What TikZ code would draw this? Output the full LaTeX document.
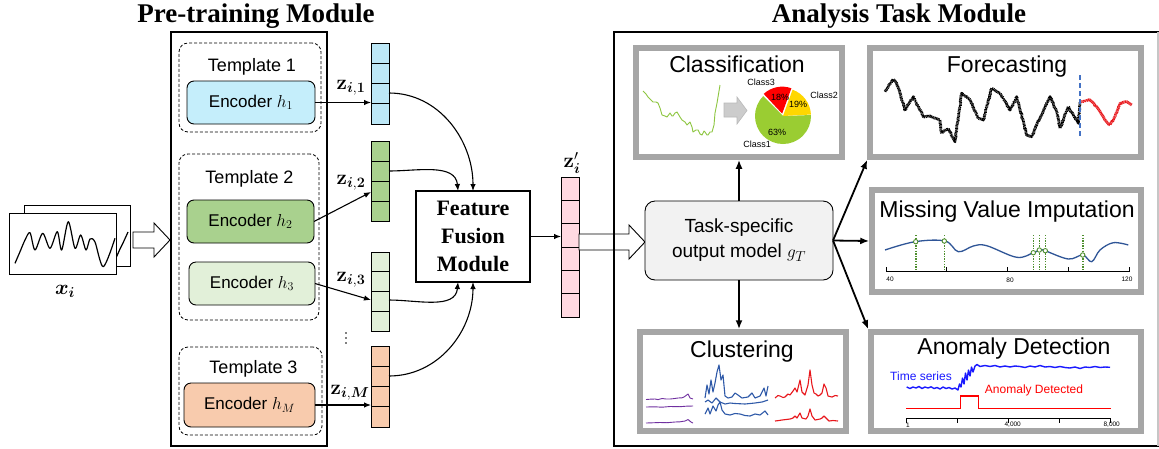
\documentclass[tikz,border=0pt]{standalone}
\usepackage[no-math]{fontspec}
\setmainfont{Liberation Sans}
\newfontfamily\titlefont{Liberation Serif}
\usepackage{amsmath}
\usepackage{bm}
\usetikzlibrary{arrows.meta,calc,decorations.pathmorphing}
\definecolor{encBlue}{HTML}{C5EEFB}
\definecolor{vecBlue}{HTML}{BDE8F7}
\definecolor{encGreen}{HTML}{A9D18E}
\definecolor{encLight}{HTML}{E2F0D9}
\definecolor{encOrange}{HTML}{F8CBAD}
\definecolor{vecPink}{HTML}{FFD9E1}
\definecolor{taskGray}{HTML}{F2F2F2}
\definecolor{panelGray}{HTML}{A6A6A6}
\definecolor{pieGreen}{HTML}{9ACD32}
\definecolor{pieYellow}{HTML}{FFD700}
\definecolor{pieRed}{HTML}{FF0000}
\definecolor{mvBlue}{HTML}{2F5597}
\definecolor{mvGreen}{HTML}{4E8F2E}
\definecolor{cluPurple}{HTML}{7030A0}
\definecolor{cluBlue}{HTML}{2E59A8}
\definecolor{cluRed}{HTML}{E8161B}
\definecolor{adBlue}{HTML}{1A1AFF}
\definecolor{fcBlue}{HTML}{4472C4}
\definecolor{fcRed}{HTML}{E8161B}
\definecolor{clsLine}{HTML}{8DC63F}
\newcommand\vcells[2]{\pgfmathtruncatemacro\vcn{#2-1}\foreach \k in {1,...,\vcn}{\draw[line width=0.9pt] ($(#1.north west)!\k/#2!(#1.south west)$) -- ($(#1.north east)!\k/#2!(#1.south east)$);}}
\newcommand\hollowarrow[5]{\draw[line width=0.9pt, fill=white, line join=miter] (#1,#3-#4) -- (#2-16,#3-#4) -- (#2-16,#3-#5) -- (#2,#3) -- (#2-16,#3+#5) -- (#2-16,#3+#4) -- (#1,#3+#4) -- cycle;}
\begin{document}
\begin{tikzpicture}[x=1pt,y=-1pt,
  every node/.style={inner sep=0pt, outer sep=0pt},
  tmpl/.style={draw, dash pattern=on 3pt off 2pt, rounded corners=9pt, line width=0.8pt},
  enc/.style={draw, rounded corners=7pt, line width=0.9pt, font=\fontsize{17}{20}\selectfont},
  vec/.style={draw, line width=0.9pt, minimum width=18pt},
  arr/.style={-{Latex[length=7pt,width=5.5pt]}, line width=1.1pt},
  arrT/.style={-{Latex[length=9pt,width=7pt]}, line width=1.8pt},
  panel/.style={draw=panelGray, line width=5.5pt, fill=white, outer sep=2.75pt},
  ptitle/.style={anchor=base, font=\fontsize{23}{26}\selectfont},
  tlabel/.style={anchor=base, font=\fontsize{18}{21}\selectfont},
  zlab/.style={font=\fontsize{20}{24}\selectfont},
  small/.style={font=\fontsize{9}{10}\selectfont},
  tiny/.style={font=\fontsize{6.5}{7}\selectfont},
  modtitle/.style={anchor=base, font=\titlefont\bfseries\fontsize{27}{30}\selectfont},
  noisy/.style={decorate, decoration={random steps, segment length=1.8pt, amplitude=0.5pt}},
  fcline/.style={line width=2.8pt, dash pattern=on 0.9pt off 0.5pt, line join=round},
]
\pgfmathsetseed{7}
\useasboundingbox (0,0) rectangle (1159,448);

% ---------------- input series ----------------
\node[draw, line width=0.9pt, fill=white, minimum width=106pt, minimum height=61pt] (xb) at (77,235.5) {};
\draw[line width=1.2pt, line join=round] (116,258) -- (120,249) -- (123,243) -- (128,232);
\node[draw, line width=0.9pt, fill=white, minimum width=107pt, minimum height=61pt] (xf) at (62.5,243.5) {};
\draw[line width=1.2pt, line join=round] plot[smooth, tension=0.5] coordinates {(15,263.3) (20,251.7) (25,240) (30,232.7) (35,250) (42.7,233.3) (50,248.3) (57.3,231.7) (61.7,250) (68.3,221.7) (75,248.3) (80.7,235) (86,250) (90,239) (95,242) (103.3,266.7) (115,238.3)};
\node[font=\fontsize{21}{24}\selectfont] (xlab) at (65,291) {$\bm{x_i}$};
\hollowarrow{133}{170}{240}{8}{17}

% ---------------- pre-training module ----------------
\node[modtitle] (preT) at (256,22) {Pre-training Module};
\node[draw, line width=1.4pt, minimum width=156pt, minimum height=414pt] (pre) at (249,239) {};

\node[tmpl, minimum width=142pt, minimum height=89pt] (t1) at (250,87.5) {};
\node[tlabel] (t1l) at (252,71) {Template 1};
\node[enc, fill=encBlue, minimum width=128pt, minimum height=43pt] (h1) at (251,102.5) {Encoder $h_1$};

\node[tmpl, minimum width=140pt, minimum height=166pt] (t2) at (249,237) {};
\node[tlabel] (t2l) at (249.5,183) {Template 2};
\node[enc, fill=encGreen, minimum width=127pt, minimum height=43pt] (h2) at (250.5,221.5) {Encoder $h_2$};
\node[enc, fill=encLight, minimum width=126pt, minimum height=43pt] (h3) at (252,283.5) {Encoder $h_3$};

\node[tmpl, minimum width=143pt, minimum height=88pt] (t3) at (250.5,391) {};
\node[tlabel] (t3l) at (253.5,373) {Template 3};
\node[enc, fill=encOrange, minimum width=131pt, minimum height=44pt] (hM) at (249.5,405) {Encoder $h_M$};

% ---------------- embedding vectors ----------------
\node[vec, fill=vecBlue, minimum height=81pt] (z1) at (380,83.5) {}; \vcells{z1}{4}
\node[vec, fill=encGreen, minimum height=80pt] (z2) at (380,181) {}; \vcells{z2}{4}
\node[vec, fill=encLight, minimum height=79pt] (z3) at (380,291.5) {}; \vcells{z3}{4}
\node[vec, fill=encOrange, minimum height=81pt] (zM) at (380,386.5) {}; \vcells{zM}{4}
\foreach \yy in {333,338,343} \fill (346,\yy) circle[radius=0.8];

\node[zlab] (z1l) at (351,88) {$\mathbf{z}_{\bm{i},\mathbf{1}}$};
\node[zlab] (z2l) at (351,183) {$\mathbf{z}_{\bm{i},\mathbf{2}}$};
\node[zlab] (z3l) at (351,280) {$\mathbf{z}_{\bm{i},\mathbf{3}}$};
\node[zlab] (zMl) at (350,393) {$\mathbf{z}_{\bm{i},\bm{M}}$};

\draw[arr] (h1.east) -- (h1.east -| z1.west);
\draw[arr] (h2.east) -- ([yshift=-11pt]z2.west);
\draw[arr] (h3.east) -- ([yshift=-8.5pt]z3.west);
\draw[arr] (hM.east) -- (hM.east -| zM.west);

% ---------------- feature fusion ----------------
\node[draw, line width=1.2pt, minimum width=114pt, minimum height=91pt, align=center,
      font=\titlefont\bfseries\fontsize{22}{28}\selectfont] (ffm) at (473,236.5) {Feature\\Fusion\\Module};

\draw[arr] ([yshift=-9.5pt]z1.east) to[out=0,in=90] (ffm.north);
\draw[arr] ([yshift=10pt]z2.east) to[out=0,in=95] ([xshift=-15pt]ffm.north);
\draw[arr] ([yshift=-8.5pt]z3.east) to[out=0,in=-95] ([xshift=-15pt]ffm.south);
\draw[arr] ([yshift=10.5pt]zM.east) to[out=0,in=-90] (ffm.south);

\node[vec, fill=vecPink, minimum height=140pt] (zp) at (570,247) {}; \vcells{zp}{6}
\node[zlab] (zpl) at (572,163) {$\mathbf{z}'_{\bm{i}}$};
\draw[arr] (ffm.east) -- (ffm.east -| zp.west);

\hollowarrow{579}{645}{242}{8}{17}

% ---------------- analysis task module ----------------
\node[draw, line width=1.5pt, minimum width=544pt, minimum height=414pt] (ana) at (886,239) {};
\draw[gray!45, line width=1.6pt] (ana.north east) -- (ana.south east);
\node[modtitle] (anaT) at (899,22) {Analysis Task Module};

\node[draw, fill=taskGray, rounded corners=10pt, line width=0.9pt, minimum width=188pt, minimum height=79pt,
      align=center, font=\fontsize{19}{25}\selectfont] (task) at (739,240.5) {Task-specific\\output model $g_T$};

% panels
\node[panel, minimum width=206pt, minimum height=109pt] (cls) at (739,102.5) {};
\node[panel, minimum width=271pt, minimum height=109pt] (fc) at (1005.5,102.5) {};
\node[panel, minimum width=269pt, minimum height=102pt] (mvi) at (1006.5,241) {};
\node[panel, minimum width=206pt, minimum height=99pt] (clu) at (743,381.5) {};
\node[panel, minimum width=270pt, minimum height=99pt] (ad) at (1006,381.5) {};

\draw[arrT] (task.north) -- (task.north |- cls.south);
\draw[arrT] (task.south) -- (task.south |- clu.north);
\draw[arrT] (task.east) -- (fc.south west);
\draw[arrT] (task.east) -- (mvi.west);
\draw[arrT] (task.east) -- (ad.north west);

% --- Classification ---
\node[ptitle] (clsT) at (737,72) {Classification};
\draw[clsLine, line width=0.9pt, line join=round] plot coordinates {(643,91) (646,94) (648,97) (651,100) (653,102) (656,102) (658,103) (660,108) (662,115) (665,116) (667,117) (670,113) (672,116) (673,116) (675,113) (677,112) (680,117) (682,120) (685,122) (687,125) (690,122) (692,127) (693,132) (696,130) (698,130) (700,134) (702,135) (704,131) (705,132) (707,135) (708,135) (710,132) (712,132) (714,125) (715,113) (717,103) (720,85)};
\draw[fill=gray!40, draw=gray!55, line width=0.6pt] (724,103) -- (737,103) -- (737,97) -- (747,110.5) -- (737,124) -- (737,117) -- (724,117) -- cycle;
\begin{scope}[shift={(783,116)}, yscale=-1]
  \fill[pieGreen] (0,0) -- (135:28) arc[start angle=135, end angle=362, radius=28] -- cycle;
  \fill[pieYellow] (0,0) -- (3:28) arc[start angle=3, end angle=70, radius=28] -- cycle;
  \fill[pieRed] (110:2.5) -- ++(70:27) arc[start angle=70, end angle=133, radius=27] -- cycle;
\end{scope}
\node[small] (c3) at (761,82) {Class3};
\node[small] (c2) at (824,95) {Class2};
\node[small] (p18) at (780,97) {18\%};
\node[small] (p19) at (798,104) {19\%};
\node[small] (p63) at (777,132) {63\%};
\node[small] (c1) at (757,144) {Class1};

% --- Forecasting ---
\node[ptitle] (fcT) at (1007,72) {Forecasting};
\draw[fcline, noisy] plot coordinates {(885,91.7) (893.3,79.3) (896.7,83.3) (905,110) (913.3,96.7) (923.3,116.7) (930,116) (940,120) (941.7,133.3) (948.3,128.3) (955,141.7) (961.7,93.3) (970,100) (978.3,118.3) (983.3,120) (991.7,88.3) (1000,93.3) (1010,110) (1016.7,96.7) (1026.7,135) (1031.7,136.7) (1036.7,125) (1050,96.7) (1056.7,111.7) (1060,128.3) (1068.3,106.7) (1078.3,123.3) (1080,101.7)};
\draw[fcline, fcRed, noisy] plot coordinates {(1080,101.7) (1090,100) (1096.7,106.7) (1105,120) (1110,125) (1115,116.7) (1120,103.3) (1126.7,101.7) (1131.7,105)};
\draw[fcBlue, line width=1.4pt, dash pattern=on 5pt off 3pt] (1080,75) -- (1080,137);

% --- Missing value imputation ---
\node[ptitle] (mviT) at (1007,217) {Missing Value Imputation};
\foreach \xx in {915.7,944.3,1033.3,1039.3,1045.3,1082.7}
  \draw[mvGreen, line width=1.6pt, dash pattern=on 1.4pt off 1.2pt] (\xx,235) -- (\xx,271.7);
\draw[mvBlue, line width=1.3pt] plot[smooth, tension=0.6] coordinates {(885,250) (915,241.7) (945,241) (958.3,251.7) (973.3,246) (986.7,245.7) (1016.7,257.3) (1033.3,252.7) (1040,250) (1045,250.7) (1068.3,259) (1082.7,255) (1091.7,261.7) (1100,250) (1113.3,242.7) (1128.3,245)};
\foreach \xx/\yy in {915.7/241.7,944.3/241,1033.3/252.7,1039.3/250,1045.3/250.7,1082.7/255}
  \draw[mvGreen, line width=0.9pt, fill=white] (\xx,\yy) circle[radius=2.2];
\draw[line width=0.8pt] (886,271.7) -- (1129.3,271.7);
\foreach \xx in {886,946.7,1007.3,1068.3,1129.3} \draw[line width=0.8pt] (\xx,271.7) -- (\xx,266.5);
\node[tiny] (m40) at (890,279) {40};
\node[tiny] (m80) at (1010,280) {80};
\node[tiny] (m120) at (1127,279) {120};

% --- Clustering ---
\node[ptitle] (cluT) at (742,357) {Clustering};
\draw[cluPurple, line width=0.9pt, line join=round] plot coordinates {(646,399.5) (650,399.2) (655,399) (658,399.6) (662,398.5) (666,399) (670,399) (674,398.6) (678,398) (682,397.8) (684,397) (686,395.5) (688,394) (690,398) (693,399)};
\draw[cluPurple, line width=0.9pt] plot coordinates {(646,407) (655,406.8) (662,407.2) (670,406.5) (680,406.7) (686,406.2) (693,406)};
\draw[cluPurple, line width=0.9pt, line join=round] plot coordinates {(646,423) (652,422.8) (660,422.5) (667,422.7) (675,422) (680,421.8) (685,421) (688,419.5) (691,422) (693,423)};
\draw[cluBlue, line width=1.1pt, line join=round] plot coordinates {(705,398) (707,385) (709,394) (711,380) (713,392) (715,383) (717,372) (719,365) (721,380) (723,375) (725,396) (728,398) (732,397) (735,393) (738,395) (742,398) (748,397) (752,393) (755,398) (760,396) (764,388) (766,396) (768,386)};
\draw[cluBlue, line width=1.1pt, line join=round] plot coordinates {(705,402) (708,400) (712,403) (716,398) (720,402) (725,404) (730,403) (735,403.5) (745,404) (755,403) (762,402) (768,400)};
\draw[cluBlue, line width=1.1pt, line join=round] plot coordinates {(705,414) (708,408) (710,414) (713,406) (716,411) (718,405) (720,402) (722,410) (725,414) (730,415) (735,413.5) (740,414) (745,415.5) (750,416) (755,414) (760,415) (765,411) (768,415)};
\draw[cluRed, line width=1.1pt, line join=round] plot coordinates {(775,398) (778,395.5) (780,396) (783,397.5) (785,397) (788,394) (790,395) (793,391) (795,388) (797,392) (800,380) (802,392) (805,395) (808,385) (810,370) (812,385) (814,393) (816,394) (818,396) (820,395) (822,393) (824,384) (826,388) (828,396) (832,397) (835,395.5) (838,396)};
\draw[cluRed, line width=1.1pt, line join=round] plot coordinates {(775,421) (779,420.5) (782,420) (786,419.5) (790,419) (793,418) (795,416) (797,418) (800,413) (802,418) (806,419) (808,416) (810,409) (812,416) (815,420) (820,419) (822,418) (824,416) (826,418) (829,421) (833,420.5) (838,421)};

% --- Anomaly detection ---
\node[ptitle] (adT) at (1014,354) {Anomaly Detection};
\draw[adBlue, line width=1.4pt, line join=round] plot coordinates {(906.7,387) (910,388.5) (913,387) (916,388) (919,386.5) (922,388.5) (925,387) (928,388) (931,386.8) (934,388.5) (937,387.5) (940,389) (943,387) (946,388.5) (949,387.5) (952,389) (955,388) (958,390) (959.5,384) (961,387) (962.5,378) (964,384) (965.5,373) (967,380) (968.5,370) (970,376) (971.5,367) (973,372) (975,366) (977,364.5) (980,366.5) (985,365.5) (990,366.5) (995,365.5) (1000,367) (1005,366) (1010,367) (1015,366) (1020,366.5) (1025,367.5) (1030,366) (1035,367) (1040,365.5) (1045,367) (1050,366.5) (1055,367.5) (1060,366.5) (1065,367.5) (1070,368) (1075,367) (1080,368.5) (1085,367) (1090,367.5) (1095,366.5) (1100,367.5) (1105,367) (1110,367.3)};
\node[font=\fontsize{12}{14}\selectfont, text=adBlue] (tsl) at (921,376) {Time series};
\draw[pieRed, line width=1.4pt] (906,408.3) -- (960.7,408.3) -- (960.7,396) -- (978.7,396) -- (978.7,408.3) -- (1110.7,408.3);
\node[font=\fontsize{12}{14}\selectfont, text=pieRed] (adl) at (1034,390.7) {Anomaly Detected};
\draw[line width=0.8pt] (906,418.3) -- (1110.7,418.3);
\foreach \xx in {906,957.3,1008.3,1059.3,1110.7} \draw[line width=0.8pt] (\xx,418.3) -- (\xx,422.5);
\node[tiny] (a1) at (908,425) {1};
\node[tiny] (a4) at (1012.7,425) {4,000};
\node[tiny] (a8) at (1111.7,424.5) {8,000};
\end{tikzpicture}
\end{document}
